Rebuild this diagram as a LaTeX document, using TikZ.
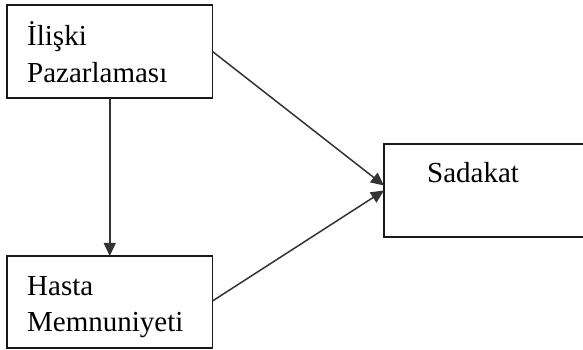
\documentclass[tikz,border=0pt]{standalone}
\usepackage{fontspec}
\setmainfont{Liberation Serif}
\usetikzlibrary{arrows.meta}
\begin{document}
\begin{tikzpicture}[x=1pt,y=1pt,
  box/.style={draw=black!90, line width=1.6pt, inner sep=0pt, outer sep=0pt, anchor=south west},
  txt/.style={anchor=base west, inner sep=0pt, font=\fontsize{29}{35}\selectfont},
  conn/.style={line width=1.5pt, draw=black!80, -{Triangle[length=13pt,width=12pt]}}]
\clip (0,0) rectangle (583,350);
\useasboundingbox (0,0) rectangle (583,350);
\fill[white] (0,0) rectangle (583,350);
\node[box, minimum width=205.5pt, minimum height=93pt] (b1) at (7,252) {};
\node[box, minimum width=205.5pt, minimum height=92pt] (b2) at (7,2) {};
\node[box, minimum width=206pt, minimum height=93pt] (b3) at (384,113) {};
\node[txt] (t1a) at (27,304) {İlişki};
\node[txt] (t1b) at (27,267) {Pazarlaması};
\node[txt] (t2a) at (27,54) {Hasta};
\node[txt] (t2b) at (27,18) {Memnuniyeti};
\node[txt] (t3) at (427,167) {Sadakat};
\draw[conn] (b1.south) -- (b2.north);
\draw[conn] (b1.east) -- ([yshift=5pt]b3.west);
\draw[conn] ([yshift=1pt]b2.east) -- (b3.west);
\end{tikzpicture}
\end{document}
